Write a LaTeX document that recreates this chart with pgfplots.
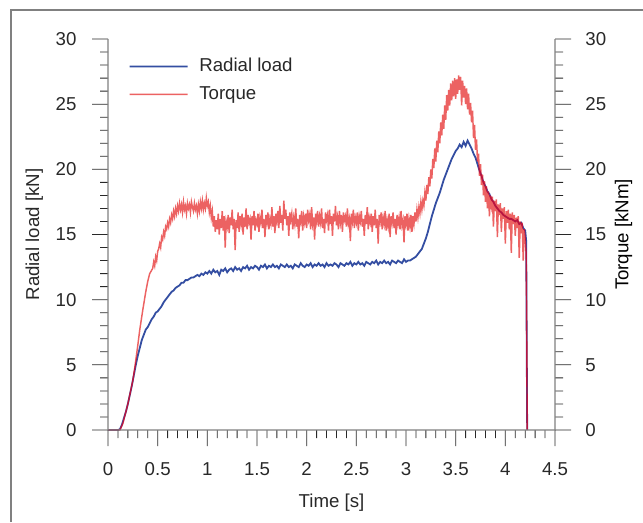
\documentclass[border=0pt]{standalone}
\usepackage{pgfplots}
\pgfplotsset{compat=1.18}
\usepackage{fontspec}
\setmainfont{Liberation Sans}
\definecolor{rblue}{RGB}{52,78,162}
\definecolor{rred}{RGB}{236,98,98}
\definecolor{axgray}{RGB}{128,128,128}
\definecolor{txt}{RGB}{40,40,40}
\begin{document}
\fontsize{14}{16.8}\selectfont
\begin{tikzpicture}
\useasboundingbox (0,0) rectangle (482.25pt,391.5pt);
\draw[axgray,line width=1pt] (8.25pt,0) -- (8.25pt,384pt) -- (482.25pt,384pt);
\pgfplotsset{
  myax/.style={
    scale only axis, width=335.25pt, height=293.25pt,
    at={(81pt,69pt)}, anchor=south west,
    xmin=0, xmax=4.5, ymin=0, ymax=30,
    major tick length=12pt, minor tick length=6pt,
    tick style={txt, line width=0.6pt},
    /pgf/number format/assume math mode=true,
    ticklabel style={font=\fontsize{14}{16.8}\selectfont, text=txt},
    label style={font=\fontsize{14}{16.8}\selectfont, text=txt},
    ytick={0,5,...,30}, minor y tick num=4,
  }
}
\begin{scope}[transparency group]
\begin{axis}[myax,
  axis x line=bottom, axis y line=left,
  axis line style={axgray, line width=0.8pt, -},
  xtick align=outside, ytick align=outside,
  xtick={0,0.5,...,4.5}, minor x tick num=4,
  xticklabels={0,0.5,1,1.5,2,2.5,3,3.5,4,4.5},
  xticklabel style={yshift=-7.5pt},
  yticklabel style={xshift=-6.75pt},
  xlabel={Time [s]}, ylabel={Radial load [kN]},
  xlabel style={yshift=-4.5pt},
  axis on top,
  legend cell align=left,
  legend style={at={(0.037,0.965)}, anchor=north west, draw=none, fill=none,
    font=\fontsize{14}{16.8}\selectfont, text=txt, row sep=5pt,
    nodes={inner xsep=8pt}},
  legend image code/.code={\draw[#1] (0pt,0pt) -- (43.5pt,0pt);},
]
\addplot[rblue, line width=1.35pt] coordinates {
(0,0)(0.10,0)(0.12,0.05)(0.14,0.4)(0.16,0.9)(0.18,1.4)(0.20,2.0)(0.22,2.7)(0.24,3.4)(0.26,4.2)(0.28,5.0)(0.30,5.7)(0.32,6.3)(0.34,6.9)(0.36,7.3)(0.38,7.7)(0.40,7.9)(0.42,8.2)(0.44,8.5)(0.46,8.7)(0.48,9.0)(0.50,9.1)(0.52,9.3)(0.54,9.5)(0.56,9.8)(0.58,10.0)(0.60,10.2)(0.62,10.4)(0.64,10.6)(0.66,10.7)(0.68,10.9)(0.70,11.0)(0.72,11.1)(0.74,11.3)(0.76,11.3)(0.78,11.5)(0.80,11.5)(0.82,11.6)(0.84,11.7)(0.86,11.7)(0.88,11.8)(0.90,11.9)(0.92,11.8)(0.94,12.0)(0.96,11.9)(0.98,12.1)(1.00,12.0)
(1.02,12.2)(1.04,12.0)(1.06,12.3)(1.08,12.1)(1.10,12.2)(1.12,11.9)(1.14,12.3)(1.16,12.2)(1.18,12.4)(1.20,12.1)(1.22,12.3)(1.24,12.4)(1.26,12.2)(1.28,12.5)(1.30,12.3)(1.32,12.4)(1.34,12.2)(1.36,12.5)(1.38,12.4)(1.40,12.6)(1.42,12.3)(1.44,12.5)(1.46,12.4)(1.48,12.6)(1.50,12.5)(1.52,12.3)(1.54,12.6)(1.56,12.5)(1.58,12.7)(1.60,12.4)(1.62,12.6)(1.64,12.5)(1.66,12.7)(1.68,12.5)(1.70,12.6)(1.72,12.4)(1.74,12.7)(1.76,12.6)(1.78,12.5)(1.80,12.7)(1.82,12.5)(1.84,12.6)(1.86,12.4)(1.88,12.7)(1.90,12.6)(1.92,12.5)(1.94,12.8)(1.96,12.6)(1.98,12.5)(2.00,12.7)
(2.02,12.6)(2.04,12.8)(2.06,12.5)(2.08,12.7)(2.10,12.6)(2.12,12.8)(2.14,12.6)(2.16,12.7)(2.18,12.5)(2.20,12.8)(2.22,12.6)(2.24,12.7)(2.26,12.6)(2.28,12.8)(2.30,12.7)(2.32,12.5)(2.34,12.8)(2.36,12.7)(2.38,12.6)(2.40,12.8)(2.42,12.7)(2.44,12.9)(2.46,12.6)(2.48,12.8)(2.50,12.7)(2.52,12.9)(2.54,12.7)(2.56,12.8)(2.58,12.6)(2.60,12.9)(2.62,12.8)(2.64,12.7)(2.66,12.9)(2.68,12.8)(2.70,13.0)(2.72,12.7)(2.74,12.9)(2.76,12.8)(2.78,13.0)(2.80,12.8)(2.82,12.9)(2.84,12.7)(2.86,13.0)(2.88,12.9)(2.90,12.8)(2.92,13.0)(2.94,12.9)(2.96,12.8)(2.98,13.1)(3.00,12.9)
(3.02,13.0)(3.04,13.0)(3.06,13.1)(3.08,13.2)(3.10,13.3)(3.12,13.5)(3.14,13.7)(3.16,13.9)(3.18,14.3)(3.20,14.7)(3.22,15.2)(3.24,15.8)(3.26,16.4)(3.28,16.9)(3.30,17.4)(3.32,17.8)(3.34,18.2)(3.36,18.7)(3.38,19.2)(3.40,19.6)(3.42,20.0)(3.44,20.4)(3.46,20.8)(3.48,21.1)(3.50,21.4)(3.52,21.6)(3.54,21.9)(3.56,21.7)(3.58,22.1)(3.60,21.8)(3.62,22.2)(3.64,21.9)(3.66,21.6)(3.68,21.2)(3.70,20.9)(3.72,20.4)(3.74,19.9)(3.76,19.5)(3.78,19.0)(3.80,18.7)(3.82,18.3)(3.84,18.1)(3.86,17.7)(3.88,17.5)(3.90,17.2)(3.92,17.0)(3.94,16.8)(3.96,16.7)(3.98,16.5)(4.00,16.4)
(4.02,16.3)(4.04,16.2)(4.06,16.2)(4.08,16.1)(4.10,16.0)(4.12,16.1)(4.14,15.8)(4.16,15.9)(4.18,15.5)(4.20,15.3)(4.21,14.5)(4.215,7.0)(4.22,0)
};
\addlegendentry{Radial load}
\addplot[rred, line width=1.1pt, blend mode=difference] coordinates {
(0,0)(0.10,0)(0.12,0.0)(0.15,0.5)(0.20,2.0)(0.25,3.8)(0.27,4.8)(0.30,6.5)(0.32,7.7)(0.35,9.2)(0.38,10.6)(0.40,11.4)(0.42,12.0)
(0.45,12.4)(0.46,12.9)(0.47,12.6)(0.48,13.3)(0.49,13.0)(0.50,13.7)(0.51,13.9)(0.52,14.3)(0.53,14.0)(0.54,14.8)(0.55,14.6)(0.56,15.2)(0.57,14.9)(0.58,15.6)(0.59,15.4)(0.60,15.9)(0.61,15.6)(0.62,16.2)(0.63,15.9)(0.64,16.5)(0.65,16.2)(0.66,16.8)(0.67,16.4)(0.68,17.0)(0.69,16.6)(0.70,17.2)(0.71,16.8)(0.72,17.4)(0.73,16.9)(0.74,17.3)(0.75,16.7)(0.76,17.5)(0.77,16.9)(0.78,17.2)(0.79,16.6)(0.80,17.4)
(0.81,17.0)(0.82,17.3)(0.83,16.7)(0.84,17.5)(0.85,17.1)(0.86,16.8)(0.87,17.4)(0.88,16.9)(0.89,17.2)(0.90,16.6)(0.91,17.3)(0.92,16.8)(0.93,17.5)(0.94,17.0)(0.95,17.6)(0.96,16.9)(0.97,17.4)(0.98,17.0)(0.99,17.8)(1.00,17.2)(1.01,17.5)(1.02,16.7)(1.03,17.2)(1.04,16.3)(1.05,16.8)(1.06,15.6)(1.07,16.4)(1.08,15.2)(1.09,16.1)(1.10,15.4)
(1.11,16.6)(1.12,15.0)(1.13,16.2)(1.14,15.5)(1.15,16.8)(1.16,15.3)(1.17,16.4)(1.18,14.0)(1.19,16.0)(1.20,15.6)(1.21,16.5)(1.22,15.1)(1.23,16.3)(1.24,15.7)(1.25,16.9)(1.26,15.4)(1.27,16.2)(1.28,13.8)(1.29,16.1)(1.30,15.5)(1.31,16.7)(1.32,15.2)(1.33,16.4)(1.34,15.8)(1.35,16.6)(1.36,15.0)(1.37,16.3)(1.38,15.6)(1.39,17.0)(1.40,15.4)
(1.41,16.5)(1.42,15.9)(1.43,16.2)(1.44,14.6)(1.45,16.4)(1.46,15.7)(1.47,16.8)(1.48,15.3)(1.49,16.1)(1.50,15.8)(1.51,16.6)(1.52,15.2)(1.53,16.3)(1.54,15.9)(1.55,16.9)(1.56,15.5)(1.57,16.2)(1.58,14.8)(1.59,16.5)(1.60,15.9)(1.61,16.7)(1.62,15.4)(1.63,16.2)(1.64,15.8)(1.65,17.1)(1.66,15.6)(1.67,16.4)(1.68,15.1)(1.69,16.6)(1.70,16.0)
(1.71,16.8)(1.72,15.5)(1.73,17.2)(1.74,15.9)(1.75,16.5)(1.76,15.3)(1.77,17.6)(1.78,16.2)(1.79,16.9)(1.80,15.7)(1.81,16.4)(1.82,14.9)(1.83,16.7)(1.84,16.1)(1.85,16.6)(1.86,15.4)(1.87,16.3)(1.88,15.8)(1.89,17.0)(1.90,15.6)(1.91,16.2)(1.92,14.7)(1.93,16.5)(1.94,16.0)(1.95,16.8)(1.96,15.3)(1.97,16.4)(1.98,15.9)(1.99,16.6)(2.00,15.5)
(2.01,16.9)(2.02,16.1)(2.03,16.5)(2.04,15.4)(2.05,17.1)(2.06,15.8)(2.07,16.3)(2.08,14.6)(2.09,16.6)(2.10,16.0)(2.11,16.8)(2.12,15.6)(2.13,16.4)(2.14,15.9)(2.15,17.0)(2.16,15.5)(2.17,16.2)(2.18,15.1)(2.19,16.7)(2.20,16.1)(2.21,16.5)(2.22,15.3)(2.23,16.9)(2.24,15.8)(2.25,16.4)(2.26,14.9)(2.27,16.6)(2.28,16.0)(2.29,17.2)(2.30,15.7)
(2.31,16.3)(2.32,15.4)(2.33,16.8)(2.34,15.9)(2.35,16.5)(2.36,15.2)(2.37,16.7)(2.38,16.1)(2.39,16.4)(2.40,15.6)(2.41,17.0)(2.42,15.8)(2.43,16.2)(2.44,14.5)(2.45,16.6)(2.46,16.0)(2.47,16.9)(2.48,15.5)(2.49,16.3)(2.50,15.9)(2.51,16.7)(2.52,15.3)(2.53,16.4)(2.54,16.0)(2.55,16.8)(2.56,15.6)(2.57,16.2)(2.58,14.9)(2.59,16.5)(2.60,15.8)
(2.61,17.1)(2.62,15.4)(2.63,16.3)(2.64,15.9)(2.65,16.6)(2.66,15.2)(2.67,16.4)(2.68,15.7)(2.69,16.9)(2.70,15.5)(2.71,16.2)(2.72,14.3)(2.73,16.5)(2.74,16.0)(2.75,16.7)(2.76,15.4)(2.77,16.3)(2.78,15.8)(2.79,16.8)(2.80,15.3)(2.81,16.1)(2.82,15.6)(2.83,16.6)(2.84,14.8)(2.85,16.4)(2.86,15.9)(2.87,16.7)(2.88,15.5)(2.89,16.2)(2.90,15.0)
(2.91,16.5)(2.92,15.8)(2.93,16.3)(2.94,15.4)(2.95,16.8)(2.96,15.7)(2.97,16.1)(2.98,14.4)(2.99,16.4)(3.00,15.8)(3.01,16.6)(3.02,15.3)(3.03,16.2)(3.04,15.6)(3.05,16.5)(3.06,15.2)(3.07,16.4)(3.08,15.8)(3.09,16.7)(3.10,16.0)(3.11,16.9)(3.12,16.3)(3.13,17.1)(3.14,16.6)(3.15,17.5)(3.16,16.9)(3.17,17.6)(3.18,17.2)(3.19,18.2)(3.20,17.6)
(3.21,18.8)(3.22,18.1)(3.23,19.4)(3.24,18.7)(3.25,20.0)(3.26,19.3)(3.27,20.8)(3.28,20.1)(3.29,21.6)(3.30,20.6)(3.31,22.2)(3.32,21.3)(3.33,22.9)(3.34,22.0)(3.35,23.6)(3.36,22.6)(3.37,24.2)(3.38,23.1)(3.39,24.9)(3.40,23.8)(3.41,25.7)(3.42,24.5)(3.43,26.1)(3.44,24.9)(3.45,26.6)(3.46,25.3)(3.47,26.8)(3.48,25.6)(3.49,27.0)(3.50,25.4)
(3.51,26.9)(3.52,25.8)(3.53,27.2)(3.54,26.1)(3.55,27.1)(3.56,24.9)(3.57,26.8)(3.58,25.5)(3.59,26.4)(3.60,25.0)(3.61,26.2)(3.62,24.6)(3.63,25.8)(3.64,24.2)(3.65,25.1)(3.66,23.6)(3.67,24.5)(3.68,22.4)(3.69,23.4)(3.70,21.5)(3.71,22.3)(3.72,20.6)(3.73,21.2)(3.74,19.5)(3.75,20.4)(3.76,18.8)(3.77,19.6)(3.78,18.0)(3.79,19.1)(3.80,17.5)
(3.81,18.7)(3.82,17.0)(3.83,18.3)(3.84,16.4)(3.85,18.0)(3.86,17.2)(3.87,17.9)(3.88,15.6)(3.89,17.6)(3.90,16.8)(3.91,17.7)(3.92,14.8)(3.93,17.3)(3.94,16.5)(3.95,17.4)(3.96,15.2)(3.97,17.0)(3.98,16.2)(3.99,17.1)(4.00,14.3)(4.01,16.8)(4.02,15.9)(4.03,16.9)(4.04,15.4)(4.05,16.6)(4.06,13.6)(4.07,16.7)(4.08,15.8)(4.09,16.5)(4.10,14.9)
(4.11,16.3)(4.12,15.5)(4.13,16.4)(4.14,13.2)(4.15,16.0)(4.16,15.1)(4.17,15.9)(4.18,13.0)(4.19,15.4)(4.20,14.6)(4.21,13.5)(4.215,8.0)(4.22,0)
};
\addlegendentry{Torque}
\end{axis}
\begin{axis}[myax,
  axis x line=none, axis y line=right,
  axis line style={axgray, line width=0.8pt, -},
  ytick align=outside,
  yticklabel style={xshift=6pt},
  ylabel={Torque [kNm]},
  ylabel style={yshift=3pt},
]
\end{axis}
\end{scope}
\end{tikzpicture}
\end{document}
